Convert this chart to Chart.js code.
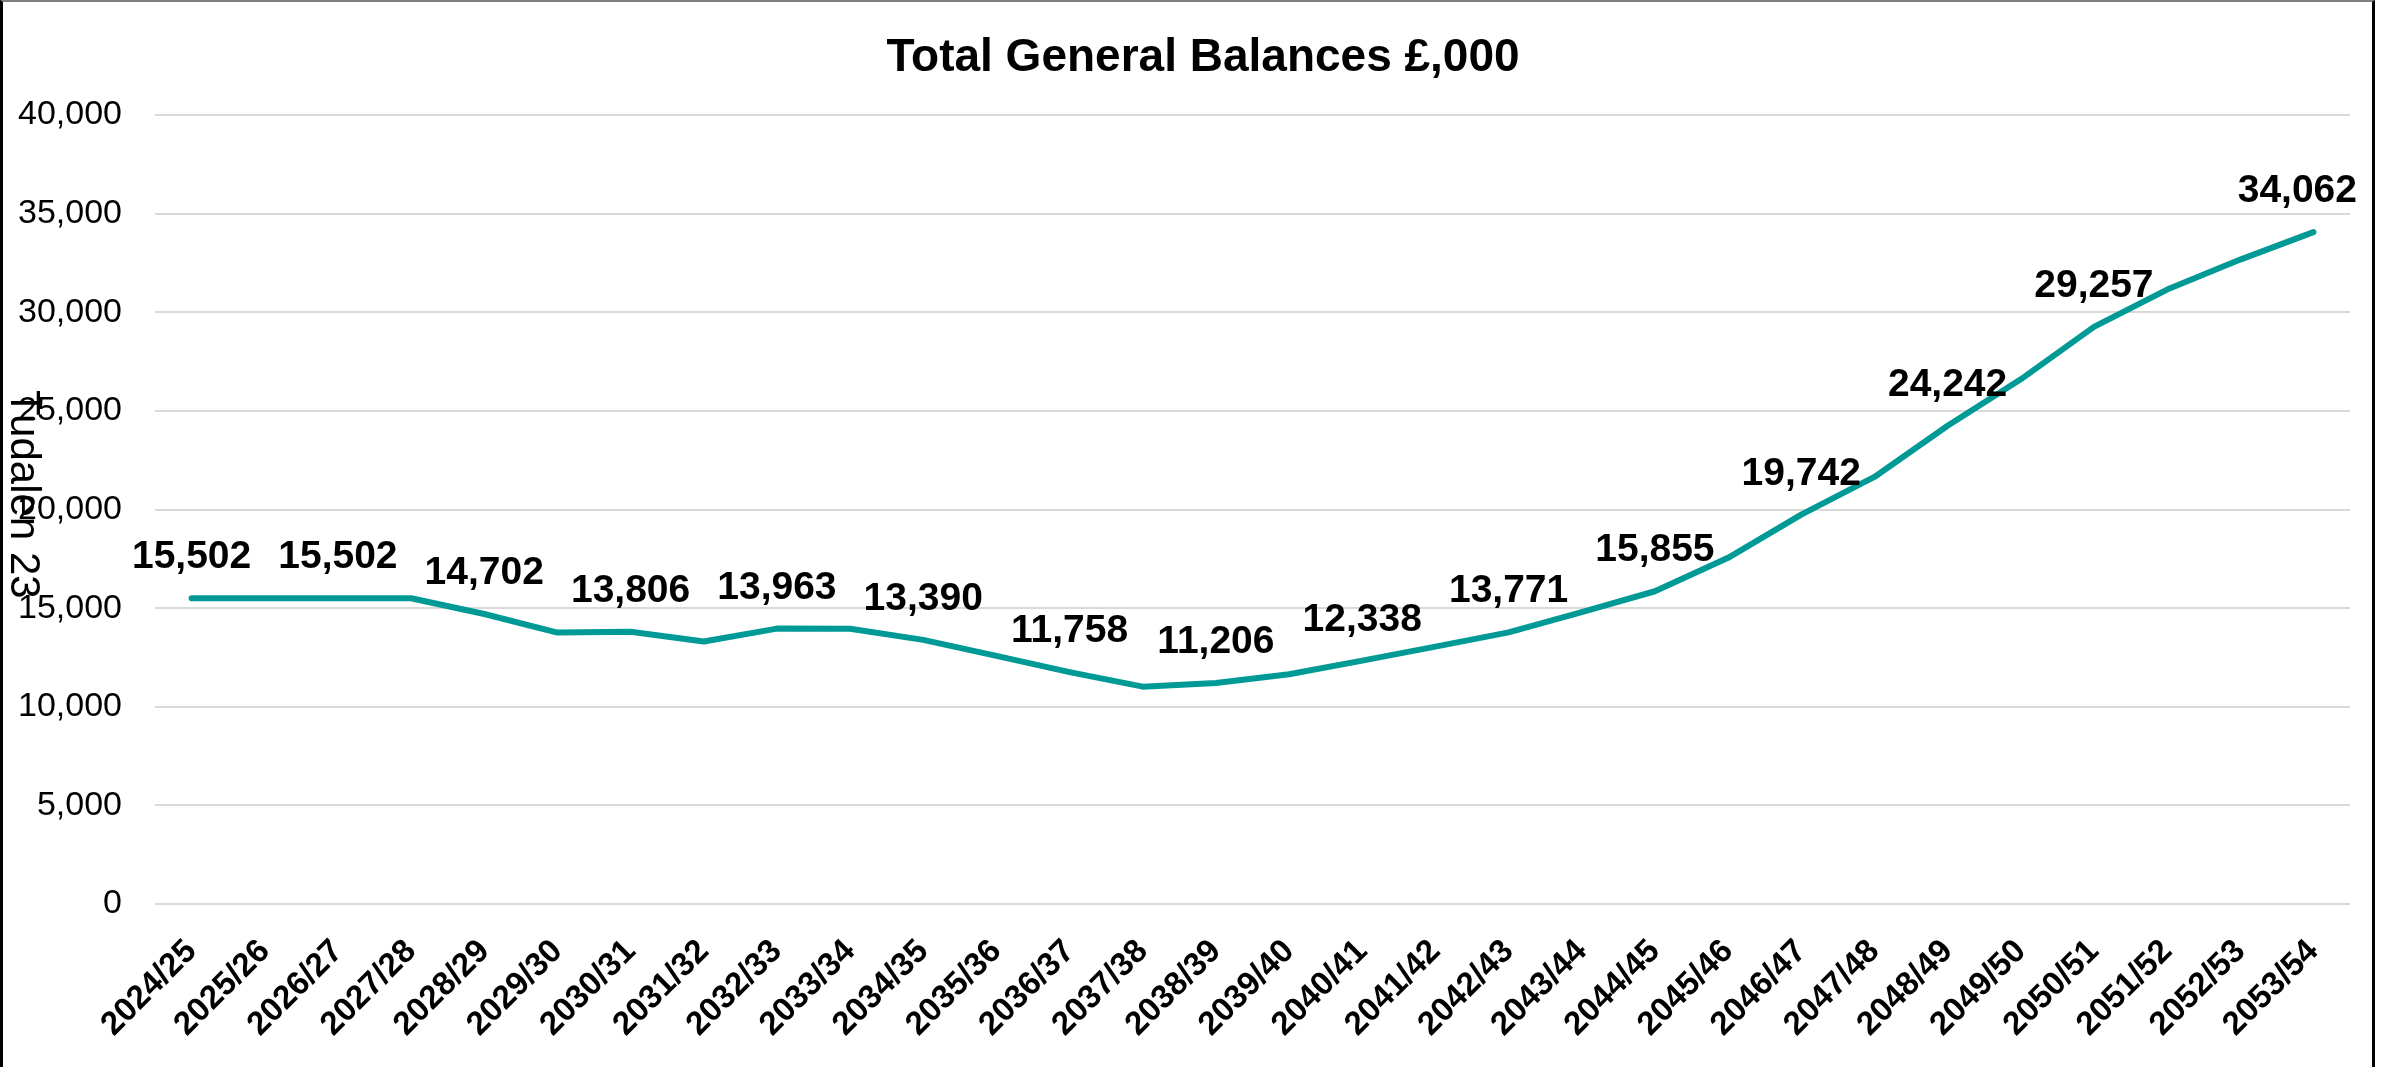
<!DOCTYPE html>
<html>
<head>
<meta charset="utf-8">
<title>Total General Balances</title>
<script src="https://cdn.jsdelivr.net/npm/chart.js@4.4.1/dist/chart.umd.min.js"></script>
<style>
  html, body { margin: 0; padding: 0; background: #fff; }
  #wrap { position: relative; width: 2382px; height: 1067px; overflow: hidden; }
  #chart { position: absolute; left: 0; top: 0; }
  #frame {
    position: absolute; left: 0; top: 0; width: 2375px; height: 1100px;
    box-sizing: border-box;
    border-left: 3px solid #000; border-right: 3px solid #000; border-top: 2px solid #7f7f7f;
    pointer-events: none;
  }
  #page {
    position: absolute; left: 4px; top: 390px;
    writing-mode: vertical-rl;
    font: 42px "Liberation Sans", Arial, sans-serif; line-height: 42px; color: #000;
  }
</style>
</head>
<body>
<div id="wrap">
  <canvas id="chart" width="2382" height="1067"></canvas>
  <div id="frame"></div>
  <div id="page">Tudalen 23</div>
</div>
<script>
// financial years on the x axis
const years = [
  "2024/25", "2025/26", "2026/27", "2027/28", "2028/29", "2029/30",
  "2030/31", "2031/32", "2032/33", "2033/34", "2034/35", "2035/36",
  "2036/37", "2037/38", "2038/39", "2039/40", "2040/41", "2041/42",
  "2042/43", "2043/44", "2044/45", "2045/46", "2046/47", "2047/48",
  "2048/49", "2049/50", "2050/51", "2051/52", "2052/53", "2053/54"
];

// total general balances, £000 (unlabelled points)
const balances = [
  15502, 15502, 15502, 15502, 14702, 13760,
  13806, 13310, 13963, 13950, 13390, 12580,
  11758, 11020, 11206, 11650, 12338, 13050,
  13771, 14800, 15855, 17550, 19742, 21650,
  24242, 26600, 29257, 31150, 32670, 34062
];

// which points carry a value label
const labelIdx = [0, 2, 4, 6, 8, 10, 12, 14, 16, 18, 20, 22, 24, 26, 29];

// y axis ticks
const yTicks = [0, 5000, 10000, 15000, 20000, 25000, 30000, 35000, 40000];

const titleText = "Total General Balances £,000";

const FONT = '"Liberation Sans", Arial, sans-serif';

// title sits a little right of the canvas centre, like the original
const chartTitle = {
  id: "chartTitle",
  afterDraw(chart) {
    const ctx = chart.ctx;
    ctx.save();
    ctx.font = "bold 46px " + FONT;
    ctx.fillStyle = "#000";
    ctx.textAlign = "center";
    ctx.textBaseline = "middle";
    ctx.fillText(titleText, 1203, 58);
    ctx.restore();
  },
};

// draws the bold value labels above the line
const valueLabels = {
  id: "valueLabels",
  afterDatasetsDraw(chart) {
    const ctx = chart.ctx;
    const meta = chart.getDatasetMeta(0);
    ctx.save();
    ctx.font = "bold 39px " + FONT;
    ctx.fillStyle = "#000";
    ctx.textAlign = "center";
    ctx.textBaseline = "alphabetic";
    labelIdx.forEach((i) => {
      const pt = meta.data[i];
      const txt = balances[i].toLocaleString("en-GB");
      const w = ctx.measureText(txt).width;
      let x = pt.x;
      const maxX = chart.width - 25;
      if (x + w / 2 > maxX) x = maxX - w / 2;
      ctx.fillText(txt, x, pt.y - 30);
    });
    ctx.restore();
  },
};

const ctx = document.getElementById("chart").getContext("2d");

const myChart = new Chart(ctx, {
  type: "line",
  data: {
    labels: years,
    datasets: [
      {
        label: "Total General Balances",
        data: balances,
        borderColor: "#009a96",
        backgroundColor: "#009a96",
        borderWidth: 6,
        borderCapStyle: "round",
        borderJoinStyle: "round",
        pointRadius: 0,
        tension: 0,
        fill: false,
      },
    ],
  },
  options: {
    responsive: false,
    devicePixelRatio: 1,
    animation: false,
    layout: { padding: { left: 0, right: 32, top: 115, bottom: 0 } },
    plugins: {
      legend: { display: false },
      tooltip: { enabled: false },
      title: { display: false },
    },
    scales: {
      x: {
        offset: true,
        grid: { display: false },
        border: { display: false },
        ticks: {
          color: "#000",
          font: { family: FONT, size: 33, weight: "bold" },
          maxRotation: 45,
          minRotation: 45,
          autoSkip: false,
          padding: 20,
        },
        afterFit(scale) {
          scale.height = 163;
        },
      },
      y: {
        min: 0,
        max: 40000,
        grid: { color: "#d9d9d9", lineWidth: 2, drawTicks: false },
        border: { display: false },
        ticks: {
          color: "#000",
          font: { family: FONT, size: 34 },
          padding: 33,
          stepSize: 5000,
          callback: (v) => (yTicks.includes(v) ? v.toLocaleString("en-GB") : ""),
        },
        afterFit(scale) {
          scale.width = 155;
        },
      },
    },
  },
  plugins: [valueLabels, chartTitle],
});
</script>
</body>
</html>
